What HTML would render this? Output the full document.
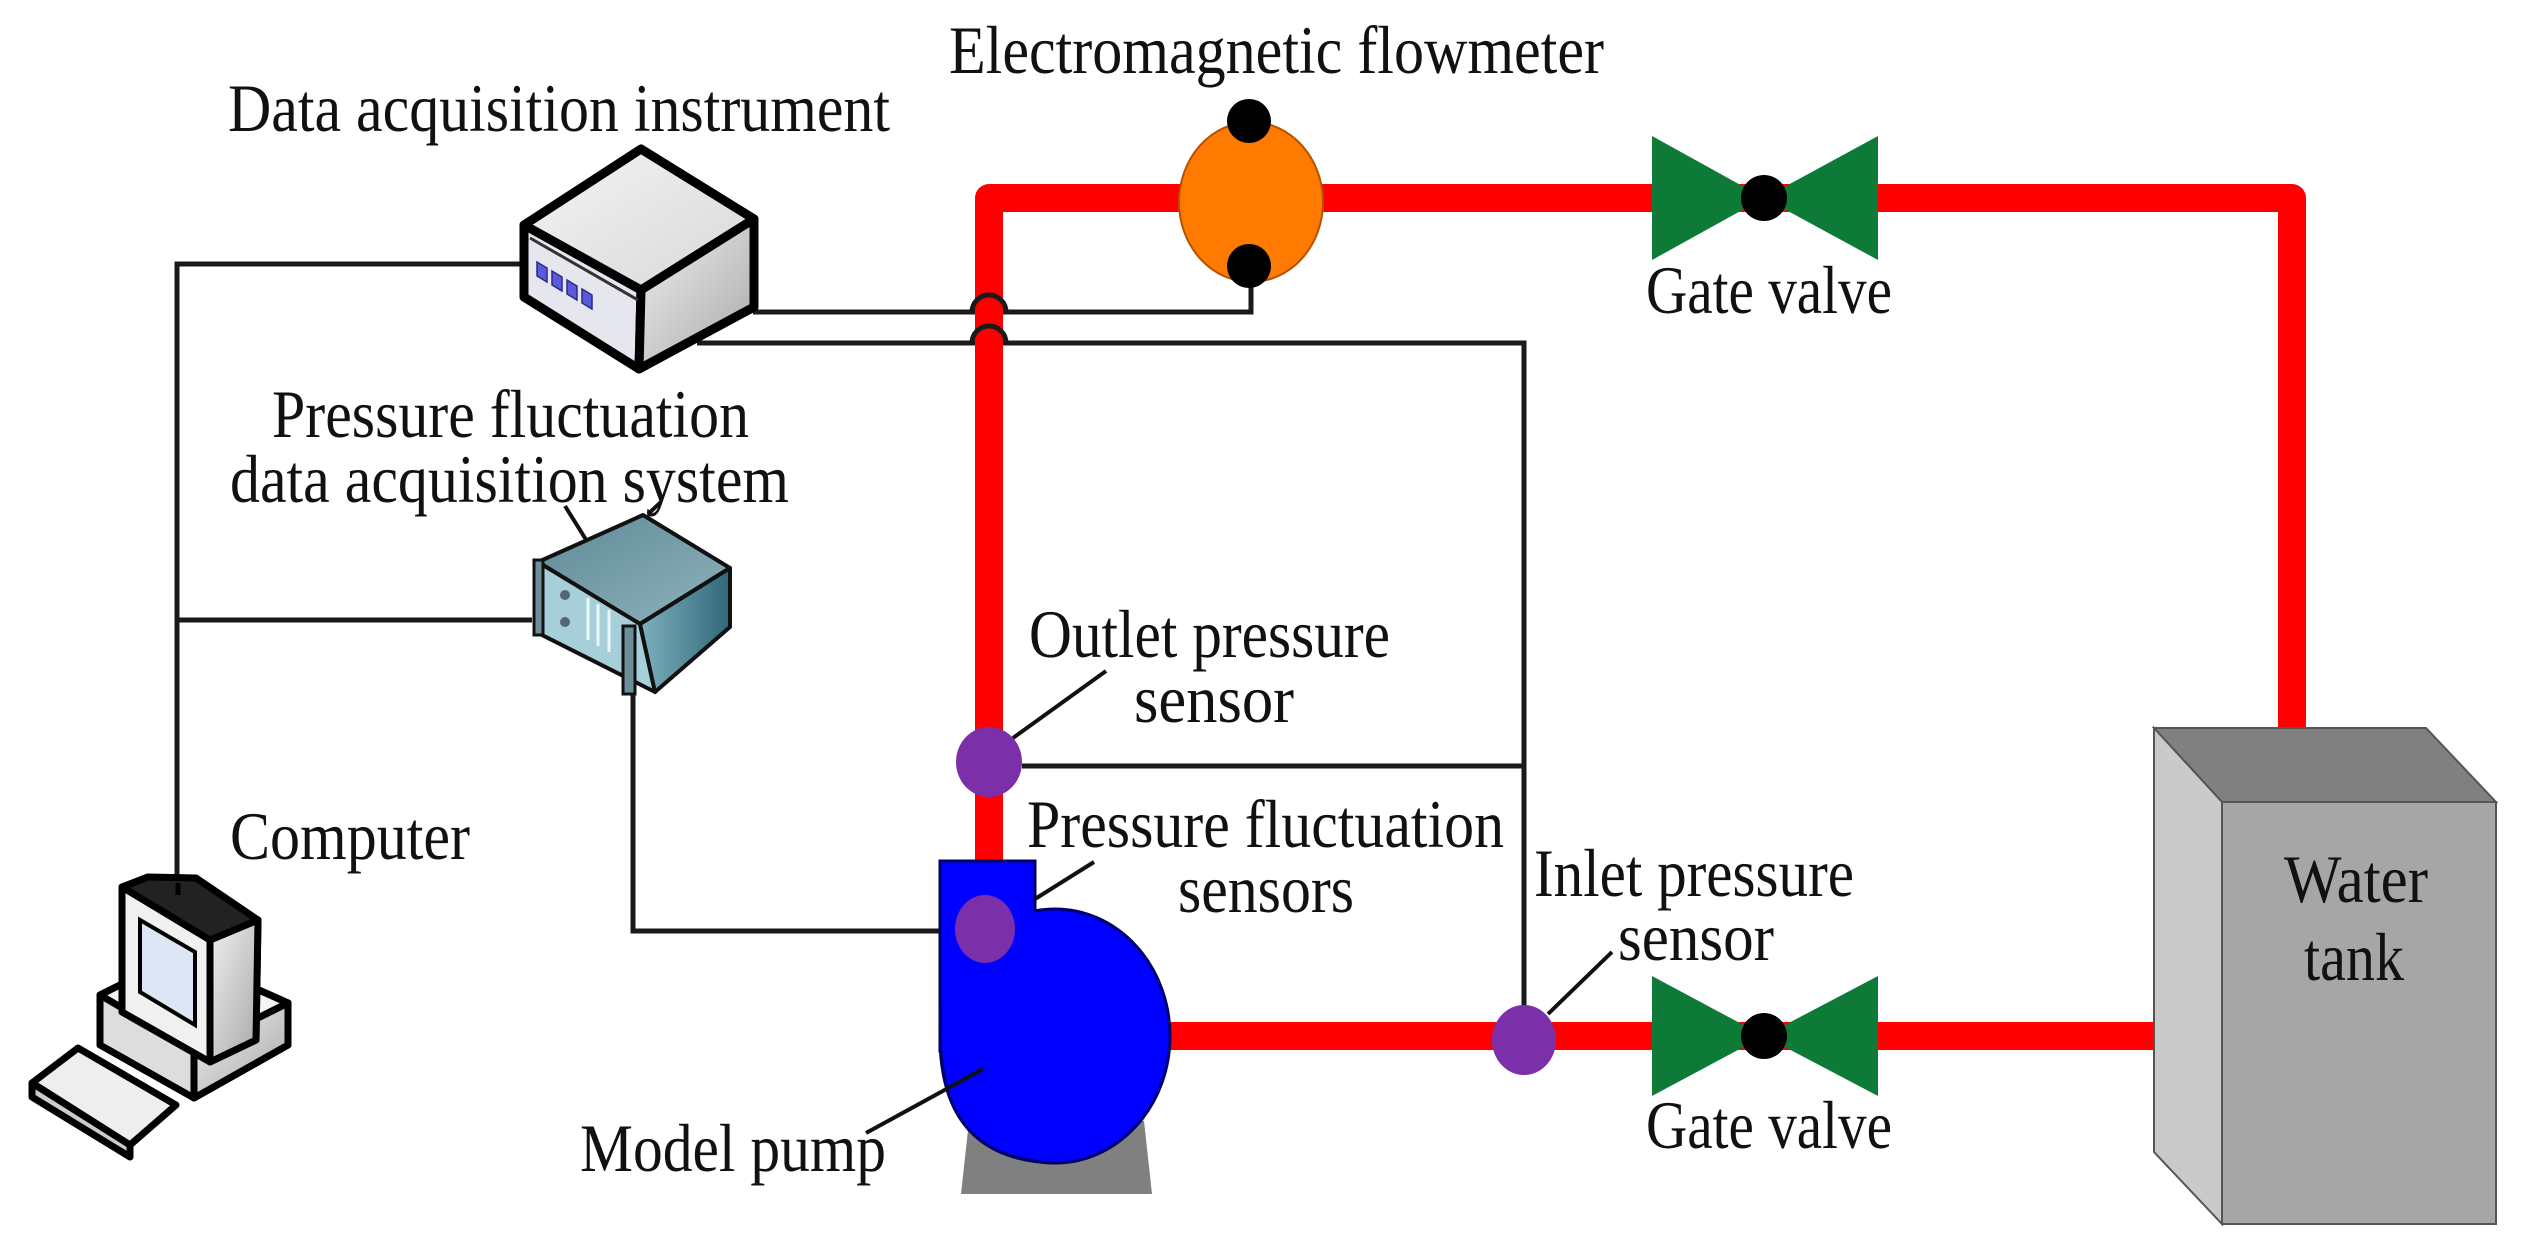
<!DOCTYPE html>
<html><head><meta charset="utf-8"><style>
html,body{margin:0;padding:0;background:#fff;}
svg{display:block;}
text{font-family:"Liberation Serif",serif;font-size:68px;fill:#111;}
</style></head><body>
<svg width="2528" height="1250" viewBox="0 0 2528 1250" xmlns="http://www.w3.org/2000/svg">
<defs>
<linearGradient id="gtop" x1="0" y1="0" x2="1" y2="1"><stop offset="0" stop-color="#f4f4f4"/><stop offset="1" stop-color="#d8d8d8"/></linearGradient>
<linearGradient id="gright" x1="0" y1="0" x2="1" y2="1"><stop offset="0" stop-color="#f0f0f0"/><stop offset="1" stop-color="#a8a8a8"/></linearGradient>
<linearGradient id="ptop" x1="0" y1="0" x2="1" y2="1"><stop offset="0" stop-color="#5e8a96"/><stop offset="1" stop-color="#8fb3bd"/></linearGradient>
<linearGradient id="pright" x1="0" y1="0" x2="1" y2="0"><stop offset="0" stop-color="#7fb0bf"/><stop offset="1" stop-color="#2f6878"/></linearGradient>
</defs>

<g fill="none" stroke="#1a1a1a" stroke-width="5">
<polyline points="524,264 177,264 177,883"/>
<polyline points="177,620 532,620"/>
<polyline points="633,692 633,931 940,931"/>
<path d="M753,312 H975 A14,14 0 0 1 1003,312 H1251 V266"/>
<path d="M697,343 H975 A14,14 0 0 1 1003,343 H1524 V1008"/>
<polyline points="1022,766 1524,766"/>
</g>

<g fill="none" stroke="#ff0000" stroke-width="28" stroke-linejoin="round">
<path d="M989,861 V198 H2292 V730"/>
<path d="M1150,1036 H2154"/>
</g>
<g fill="none" stroke="#1a1a1a" stroke-width="5">
<path d="M972,312 A17,17 0 0 1 1006,312"/>
<path d="M972,343 A17,17 0 0 1 1006,343"/>
</g>

<ellipse cx="1251" cy="202" rx="72" ry="80" fill="#ff7a00" stroke="#b85000" stroke-width="2"/>
<circle cx="1249" cy="121" r="22" fill="#000"/>
<circle cx="1249" cy="266" r="22" fill="#000"/>

<g fill="#0d7a37">
<polygon points="1652,136 1652,260 1764,198"/><polygon points="1878,136 1878,260 1764,198"/>
<polygon points="1652,976 1652,1096 1764,1036"/><polygon points="1878,976 1878,1096 1764,1036"/>
</g>
<circle cx="1764" cy="198" r="23" fill="#000"/>
<circle cx="1764" cy="1036" r="23" fill="#000"/>

<polygon points="2154,728 2426,728 2496,802 2222,802" fill="#808080" stroke="#555" stroke-width="2"/>
<polygon points="2154,728 2222,802 2222,1224 2154,1152" fill="#cacaca" stroke="#555" stroke-width="2"/>
<rect x="2222" y="802" width="274" height="422" fill="#a6a6a6" stroke="#555" stroke-width="2"/>

<polygon points="969,1121 1144,1121 1152,1194 961,1194" fill="#808080"/>
<g fill="#0000ff" stroke="#00006a" stroke-width="3">
<rect x="940" y="861" width="95" height="190"/>
<path d="M940,1040 Q942,1160 1055,1163 L1055,1036 Z"/>
<ellipse cx="1055" cy="1036" rx="115" ry="127"/>
</g>
<rect x="942" y="863" width="91" height="186" fill="#0000ff"/>
<path d="M942,1040 Q944,1158 1055,1161 L1055,1036 Z" fill="#0000ff"/>
<ellipse cx="1055" cy="1036" rx="113" ry="125" fill="#0000ff"/>
<ellipse cx="985" cy="929" rx="30" ry="34" fill="#7b2fa8"/>

<ellipse cx="989" cy="762" rx="33" ry="35" fill="#7b2fa8"/>
<ellipse cx="1524" cy="1040" rx="32" ry="35" fill="#7b2fa8"/>

<g stroke="#111" stroke-width="4" fill="none">
<line x1="1013" y1="738" x2="1106" y2="671"/>
<line x1="1035" y1="899" x2="1094" y2="862"/>
<line x1="866" y1="1133" x2="983" y2="1069"/>
<line x1="1548" y1="1014" x2="1612" y2="952"/>
<line x1="565" y1="506" x2="605" y2="570"/>
<line x1="661" y1="502" x2="648" y2="514"/>
</g>

<g stroke="#000" stroke-width="9" stroke-linejoin="round">
<polygon points="641,149 754,219 641,290 524,225" fill="url(#gtop)"/>
<polygon points="524,225 641,290 639,369 524,297" fill="#e6e6ee"/>
<polygon points="641,290 754,219 754,307 639,369" fill="url(#gright)"/>
</g>
<line x1="530" y1="238" x2="638" y2="300" stroke="#333" stroke-width="3"/>
<g fill="#5a5adc" stroke="#2a2a8a" stroke-width="1.5">
<polygon points="537,262 547,268 547,282 537,276"/>
<polygon points="552,271 562,277 562,291 552,285"/>
<polygon points="567,280 577,286 577,300 567,294"/>
<polygon points="582,289 592,295 592,309 582,303"/>
</g>

<g stroke="#111" stroke-width="4" stroke-linejoin="round">
<polygon points="643,515 730,568 640,624 538,562" fill="url(#ptop)"/>
<polygon points="538,562 640,624 655,692 538,633" fill="#a6cfd9"/>
<polygon points="640,624 730,568 730,627 655,692" fill="url(#pright)"/>
</g>
<rect x="534" y="560" width="9" height="75" fill="#6d8f99" stroke="#111" stroke-width="3"/>
<rect x="623" y="626" width="12" height="68" fill="#6d8f99" stroke="#111" stroke-width="3"/>
<g stroke="#eaf6fa" stroke-width="3"><line x1="588" y1="598" x2="588" y2="640"/><line x1="598" y1="604" x2="598" y2="646"/><line x1="609" y1="610" x2="609" y2="652"/></g>
<circle cx="565" cy="595" r="5" fill="#567" /><circle cx="565" cy="622" r="5" fill="#567"/>

<g stroke="#000" stroke-width="7" stroke-linejoin="round">
<polygon points="32,1083 78,1048 176,1105 130,1145" fill="#eee"/>
<polygon points="32,1083 130,1145 130,1157 32,1097" fill="#ccc"/>
<polygon points="100,995 180,955 288,1003 288,1045 194,1098 100,1045" fill="#ddd"/>
<polygon points="100,995 194,1050 288,1003 180,955" fill="#f5f5f5"/>
<polygon points="194,1050 288,1003 288,1045 194,1098" fill="url(#gright)"/>
<polygon points="122,887 148,877 258,920 256,1040 210,1062 122,1012" fill="#f0f0f0"/>
<polygon points="210,940 258,920 256,1040 210,1062" fill="url(#gright)"/>
<polygon points="148,877 196,878 258,920 210,940 122,887" fill="#222"/>
</g>
<polygon points="140,920 195,952 195,1025 140,992" fill="#dde6f4" stroke="#000" stroke-width="4"/>
<line x1="178" y1="883" x2="178" y2="895" stroke="#000" stroke-width="5"/>

<text x="949" y="73" textLength="655" lengthAdjust="spacingAndGlyphs">Electromagnetic flowmeter</text>
<text x="228" y="131" textLength="662" lengthAdjust="spacingAndGlyphs">Data acquisition instrument</text>
<text x="1646" y="313" textLength="246" lengthAdjust="spacingAndGlyphs">Gate valve</text>
<text x="272" y="437" textLength="477" lengthAdjust="spacingAndGlyphs">Pressure fluctuation</text>
<text x="230" y="502" textLength="559" lengthAdjust="spacingAndGlyphs">data acquisition system</text>
<text x="1029" y="657" textLength="361" lengthAdjust="spacingAndGlyphs">Outlet pressure</text>
<text x="1134" y="722" textLength="160" lengthAdjust="spacingAndGlyphs">sensor</text>
<text x="230" y="859" textLength="240" lengthAdjust="spacingAndGlyphs">Computer</text>
<text x="1027" y="847" textLength="477" lengthAdjust="spacingAndGlyphs">Pressure fluctuation</text>
<text x="1178" y="912" textLength="176" lengthAdjust="spacingAndGlyphs">sensors</text>
<text x="1534" y="896" textLength="320" lengthAdjust="spacingAndGlyphs">Inlet pressure</text>
<text x="1618" y="960" textLength="156" lengthAdjust="spacingAndGlyphs">sensor</text>
<text x="2284" y="902" textLength="144" lengthAdjust="spacingAndGlyphs">Water</text>
<text x="2304" y="980" textLength="100" lengthAdjust="spacingAndGlyphs">tank</text>
<text x="580" y="1171" textLength="306" lengthAdjust="spacingAndGlyphs">Model pump</text>
<text x="1646" y="1148" textLength="246" lengthAdjust="spacingAndGlyphs">Gate valve</text>
</svg>
</body></html>
